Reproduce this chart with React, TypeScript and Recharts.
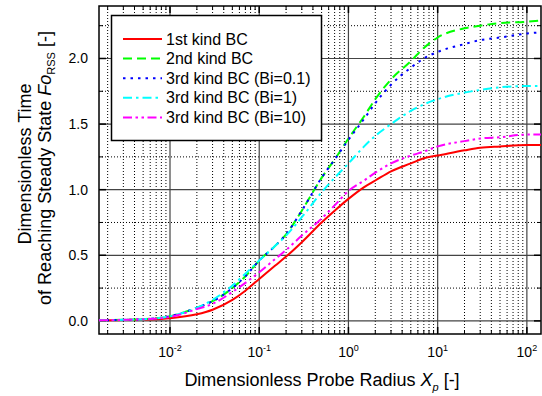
import { LineChart, Line, XAxis, YAxis, ReferenceLine, ReferenceArea } from 'recharts';

const FONT = '"Liberation Sans", Arial, sans-serif';

// dimensionless probe radius X_p
const radius = [0.0016, 0.002, 0.003, 0.005, 0.01, 0.02, 0.03, 0.05, 0.07, 0.1, 0.15, 0.2, 0.3, 0.5, 0.7, 1, 1.5, 2, 3, 5, 7, 10, 20, 30, 50, 100, 144];

// Fo_RSS for each boundary condition
const firstKind = [0.003, 0.004, 0.006, 0.01, 0.02, 0.05, 0.085, 0.16, 0.23, 0.32, 0.42, 0.49, 0.6, 0.75, 0.84, 0.93, 1.02, 1.07, 1.14, 1.2, 1.24, 1.26, 1.3, 1.32, 1.33, 1.34, 1.34];
const secondKind = [0.004, 0.005, 0.008, 0.013, 0.035, 0.1, 0.15, 0.25, 0.34, 0.46, 0.57, 0.66, 0.84, 1.09, 1.23, 1.39, 1.56, 1.69, 1.84, 1.98, 2.08, 2.16, 2.23, 2.25, 2.27, 2.28, 2.29];
const thirdBi01 = [0.004, 0.005, 0.008, 0.013, 0.035, 0.1, 0.15, 0.25, 0.34, 0.46, 0.57, 0.66, 0.84, 1.09, 1.23, 1.38, 1.54, 1.66, 1.8, 1.93, 2.0, 2.05, 2.11, 2.14, 2.16, 2.19, 2.2];
const thirdBi1 = [0.004, 0.005, 0.008, 0.013, 0.035, 0.1, 0.16, 0.27, 0.36, 0.46, 0.57, 0.65, 0.79, 0.98, 1.09, 1.2, 1.33, 1.41, 1.5, 1.6, 1.65, 1.69, 1.74, 1.76, 1.78, 1.79, 1.79];
const thirdBi10 = [0.004, 0.005, 0.008, 0.012, 0.03, 0.09, 0.13, 0.22, 0.29, 0.37, 0.47, 0.54, 0.65, 0.78, 0.88, 0.99, 1.07, 1.13, 1.2, 1.26, 1.29, 1.33, 1.37, 1.39, 1.4, 1.42, 1.42];

const X_MAJOR = [0.01, 0.1, 1, 10, 100];
const Y_MAJOR = [0, 0.5, 1, 1.5, 2];
const Y_MINOR = [0.25, 0.75, 1.25, 1.75, 2.25];

const X_MIN = 0.0016;
const X_MAX = 144;
const Y_MIN = -0.1;
const Y_MAX = 2.4;

const series = [
  { key: 'first', name: '1st kind BC', values: firstKind, color: '#ff0000', dash: undefined },
  { key: 'second', name: '2nd kind BC', values: secondKind, color: '#00ff00', dash: '9 5' },
  { key: 'bi01', name: '3rd kind BC (Bi=0.1)', values: thirdBi01, color: '#0000ff', dash: '2.5 5' },
  { key: 'bi1', name: '3rd kind BC (Bi=1)', values: thirdBi1, color: '#00ffff', dash: '9 4 2.5 4' },
  { key: 'bi10', name: '3rd kind BC (Bi=10)', values: thirdBi10, color: '#ff00ff', dash: '9 3.5 2.5 3.5 2.5 3.5' },
];

const data = radius.map((x, i) => {
  const row: Record<string, number> = { x };
  series.forEach((s) => (row[s.key] = s.values[i]));
  return row;
});

// minor log ticks 2..9 per decade inside the domain
const xMinor: number[] = [];
[0.001, 0.01, 0.1, 1, 10, 100].forEach((d) => {
  for (let m = 2; m <= 9; m++) {
    const v = +(d * m).toPrecision(3);
    if (v > X_MIN && v < X_MAX) xMinor.push(v);
  }
});

const W = 542;
const H = 396;
const plotW = 442;
const plotH = 328;
const yPerPx = (Y_MAX - Y_MIN) / plotH;
const decPerPx = Math.log10(X_MAX / X_MIN) / plotW;

const XTick = ({ x, y, payload }: any) => {
  const exp = Math.round(Math.log10(payload.value));
  return (
    <text x={x} y={y + 15} textAnchor="middle" fontSize={14} fontFamily={FONT} fill="#000">
      10
      <tspan dy={-6} fontSize={9}>{exp}</tspan>
    </text>
  );
};

const tickMarks = (len: number) => {
  const ly = len * yPerPx;
  const lx = Math.pow(10, len * decPerPx);
  return { ly, lx };
};

const App = () => {
  const major = tickMarks(7);
  const minor = tickMarks(4);
  return (
    <div style={{ position: 'absolute', left: 0, top: 0, width: W, height: H, background: '#fff', fontFamily: FONT }}>
      <LineChart width={W} height={H} data={data} margin={{ top: 6, right: 1, left: 0, bottom: 0 }}>
        <XAxis
          dataKey="x"
          type="number"
          scale="log"
          domain={[X_MIN, X_MAX]}
          allowDataOverflow
          ticks={X_MAJOR}
          interval={0}
          tick={<XTick />}
          tickLine={false}
          axisLine={false}
          tickSize={6}
          tickMargin={2}
          height={62}
        />
        <YAxis
          type="number"
          domain={[Y_MIN, Y_MAX]}
          allowDataOverflow
          ticks={Y_MAJOR}
          interval={0}
          tickFormatter={(v: number) => v.toFixed(1)}
          tick={{ fontSize: 14, fill: '#000', fontFamily: FONT }}
          tickLine={false}
          axisLine={false}
          tickSize={6}
          tickMargin={5}
          width={99}
        />
        {xMinor.map((v) => (
          <ReferenceLine key={'xm' + v} x={v} stroke="#000" strokeWidth={1} strokeDasharray="1 2" />
        ))}
        {Y_MINOR.map((v) => (
          <ReferenceLine key={'ym' + v} y={v} stroke="#000" strokeWidth={1} strokeDasharray="1 2" />
        ))}
        {X_MAJOR.map((v) => (
          <ReferenceLine key={'xM' + v} x={v} stroke="#444" strokeWidth={1.2} />
        ))}
        {Y_MAJOR.map((v) => (
          <ReferenceLine key={'yM' + v} y={v} stroke="#444" strokeWidth={1.2} />
        ))}
        {xMinor.map((v) => (
          <ReferenceLine key={'xtb' + v} segment={[{ x: v, y: Y_MIN }, { x: v, y: Y_MIN + minor.ly }]} stroke="#000" />
        ))}
        {xMinor.map((v) => (
          <ReferenceLine key={'xtt' + v} segment={[{ x: v, y: Y_MAX }, { x: v, y: Y_MAX - minor.ly }]} stroke="#000" />
        ))}
        {X_MAJOR.map((v) => (
          <ReferenceLine key={'xTb' + v} segment={[{ x: v, y: Y_MIN }, { x: v, y: Y_MIN + major.ly }]} stroke="#000" strokeWidth={1.5} />
        ))}
        {X_MAJOR.map((v) => (
          <ReferenceLine key={'xTt' + v} segment={[{ x: v, y: Y_MAX }, { x: v, y: Y_MAX - major.ly }]} stroke="#000" strokeWidth={1.5} />
        ))}
        {Y_MINOR.map((v) => (
          <ReferenceLine key={'ytl' + v} segment={[{ x: X_MIN, y: v }, { x: X_MIN * minor.lx, y: v }]} stroke="#000" />
        ))}
        {Y_MINOR.map((v) => (
          <ReferenceLine key={'ytr' + v} segment={[{ x: X_MAX, y: v }, { x: X_MAX / minor.lx, y: v }]} stroke="#000" />
        ))}
        {Y_MAJOR.map((v) => (
          <ReferenceLine key={'yTl' + v} segment={[{ x: X_MIN, y: v }, { x: X_MIN * major.lx, y: v }]} stroke="#000" strokeWidth={1.5} />
        ))}
        {Y_MAJOR.map((v) => (
          <ReferenceLine key={'yTr' + v} segment={[{ x: X_MAX, y: v }, { x: X_MAX / major.lx, y: v }]} stroke="#000" strokeWidth={1.5} />
        ))}
        {series.map((s) => (
          <Line
            key={s.key}
            dataKey={s.key}
            name={s.name}
            type="monotone"
            stroke={s.color}
            strokeWidth={2}
            strokeDasharray={s.dash}
            dot={false}
            activeDot={false}
            isAnimationActive={false}
          />
        ))}
        <ReferenceArea x1={X_MIN} x2={X_MAX} y1={Y_MIN} y2={Y_MAX} fill="none" stroke="#000" strokeWidth={1.5} ifOverflow="visible" />
      </LineChart>

      <svg width={W} height={H} style={{ position: 'absolute', left: 0, top: 0, pointerEvents: 'none' }}>
        <rect x={111.5} y={15.5} width={210} height={125} fill="#fff" stroke="#000" strokeWidth={1.5} />
        {series.map((s, i) => {
          const cy = 39 + i * 19.6;
          return (
            <g key={s.key}>
              <line x1={123} x2={162} y1={cy} y2={cy} stroke={s.color} strokeWidth={2} strokeDasharray={s.dash} />
              <text x={166} y={cy + 5.5} fontSize={16} fontFamily={FONT} fill="#000">{s.name}</text>
            </g>
          );
        })}
        <text transform="translate(31,164) rotate(-90)" textAnchor="middle" fontSize={18} fontFamily={FONT} fill="#000">
          Dimensionless Time
        </text>
        <text transform="translate(51,168) rotate(-90)" textAnchor="middle" fontSize={18} fontFamily={FONT} fill="#000">
          of Reaching Steady State <tspan fontStyle="italic">Fo</tspan>
          <tspan fontSize={11} dy={4}>RSS</tspan>
          <tspan dy={-4}> [-]</tspan>
        </text>
        <text x={322} y={386} textAnchor="middle" fontSize={18} fontFamily={FONT} fill="#000">
          Dimensionless Probe Radius <tspan fontStyle="italic">X</tspan>
          <tspan fontStyle="italic" fontSize={11} dy={5}>p</tspan>
          <tspan dy={-5}> [-]</tspan>
        </text>
      </svg>
    </div>
  );
};

export default App;
